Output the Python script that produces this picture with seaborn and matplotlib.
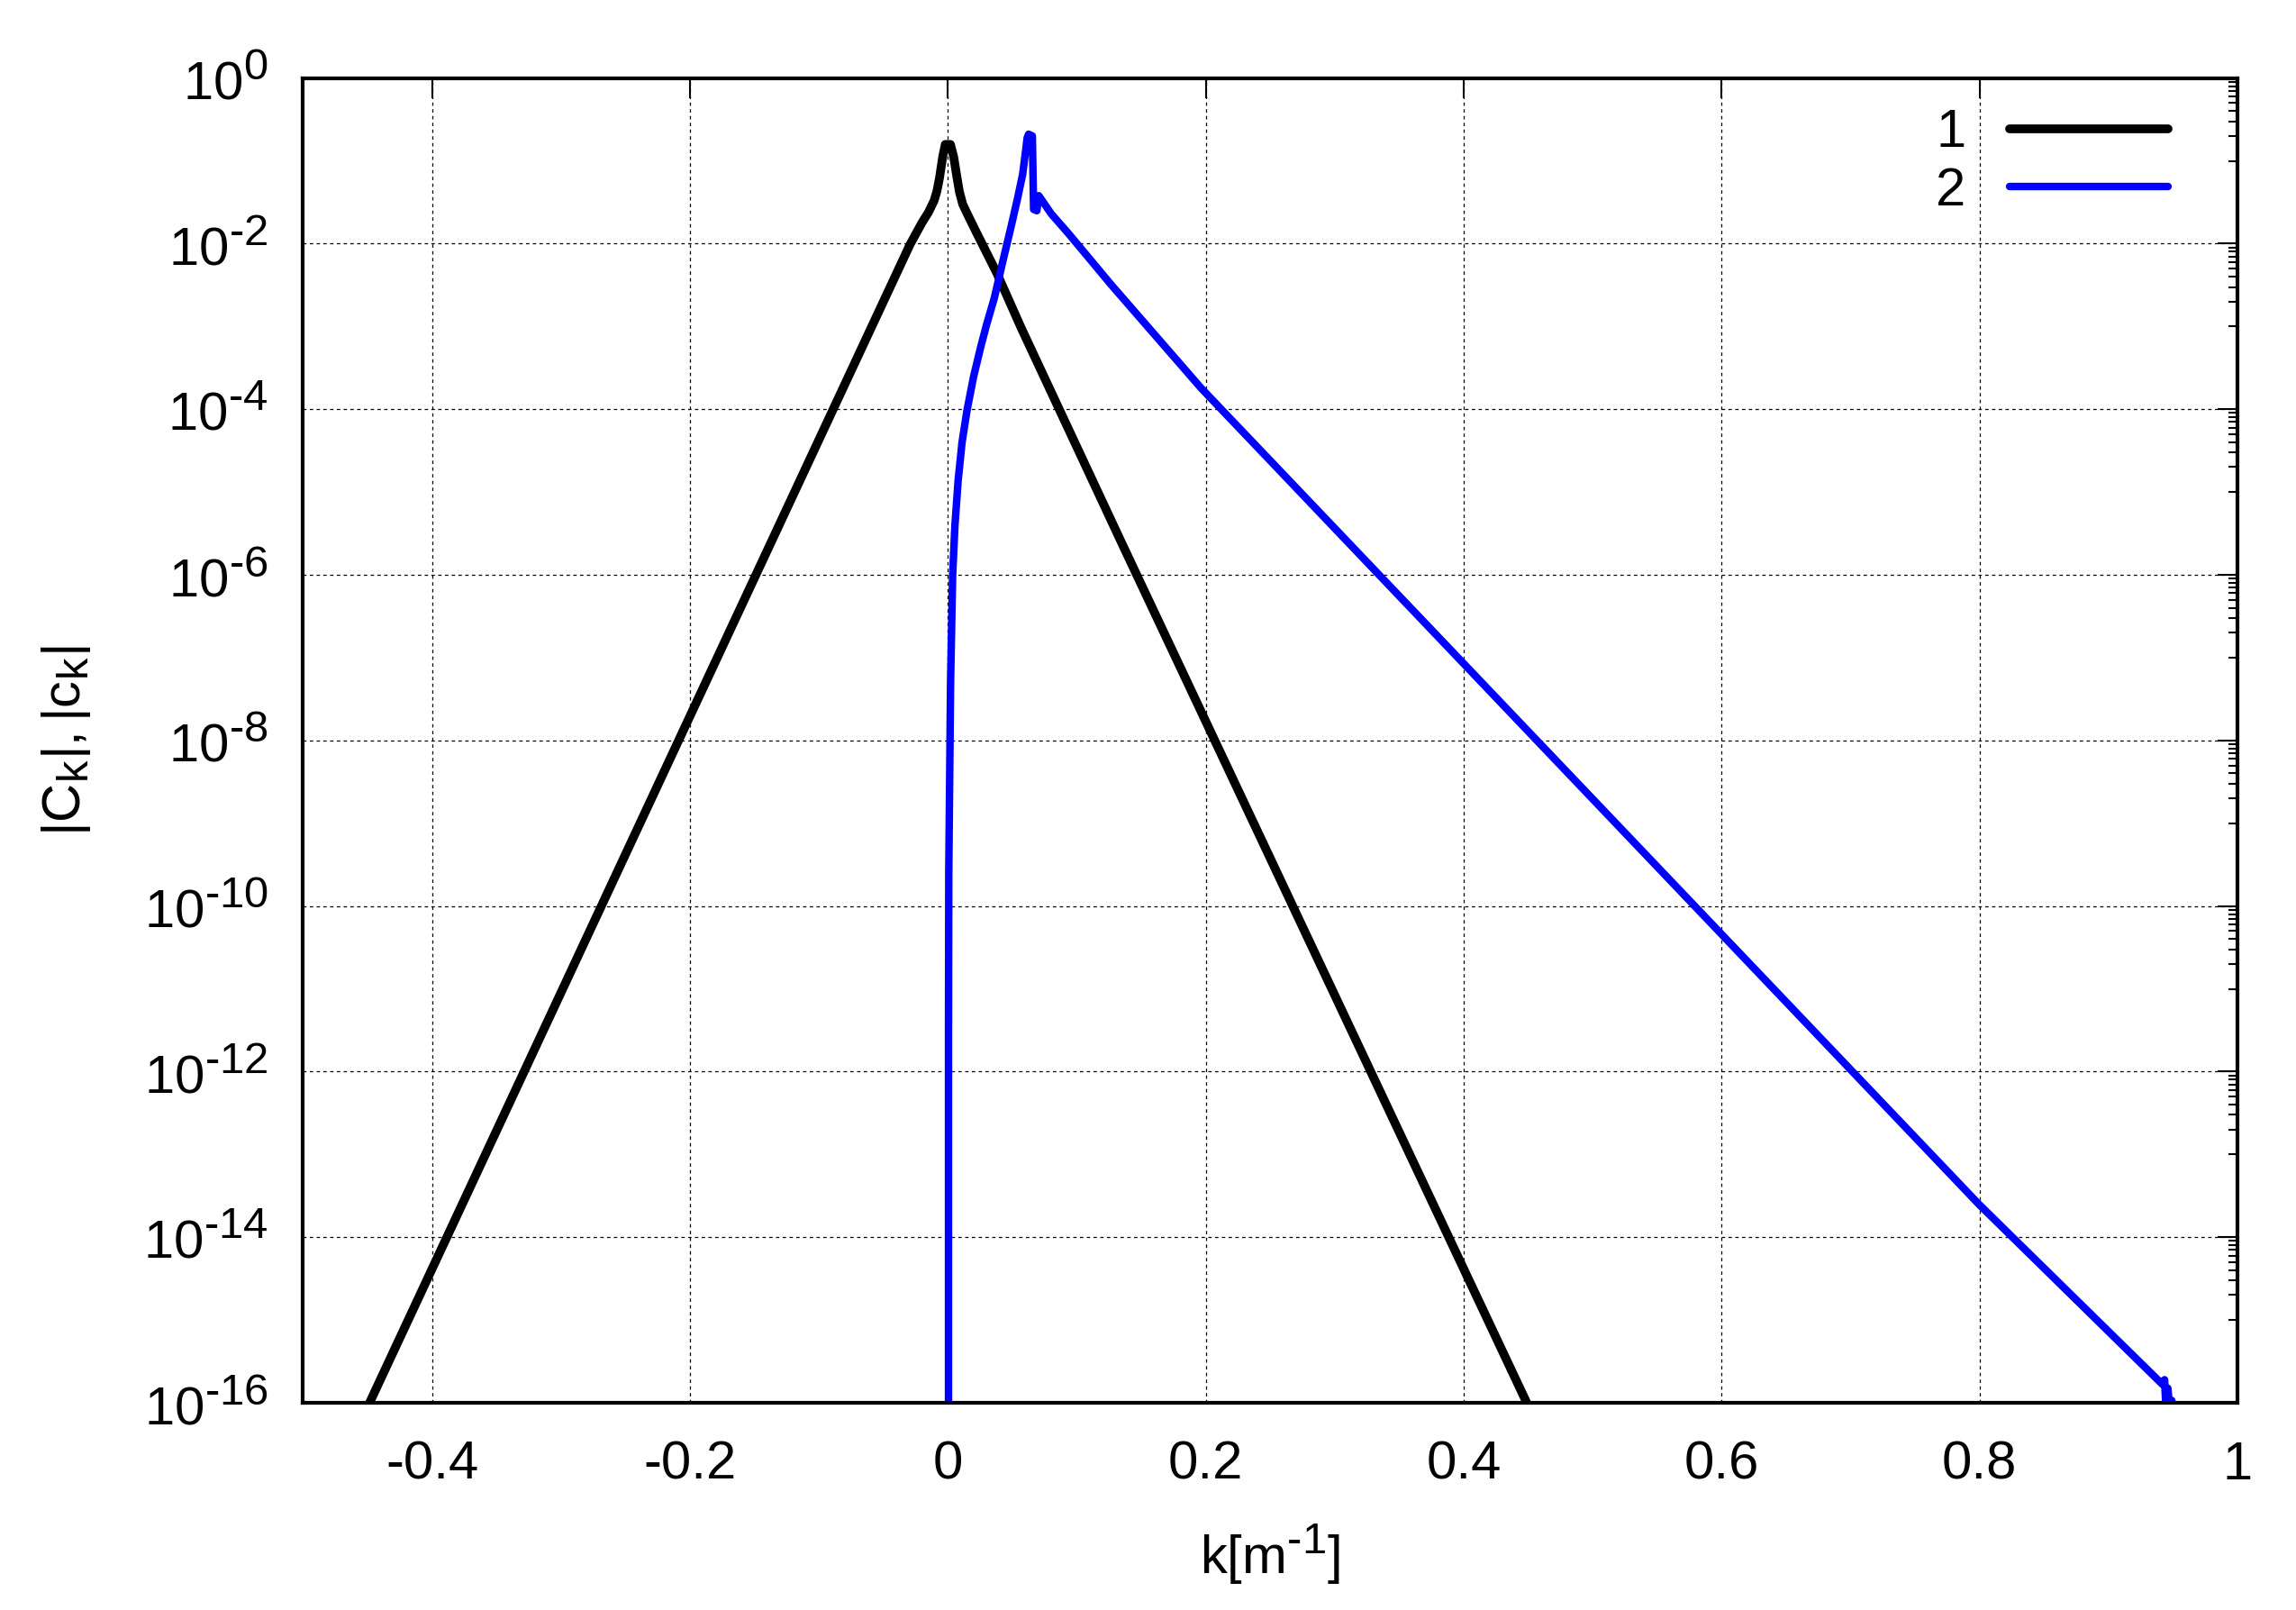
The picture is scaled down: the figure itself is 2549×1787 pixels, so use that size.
import matplotlib
matplotlib.use("Agg")
import matplotlib.pyplot as plt
import matplotlib._mathtext as mathtext_internals
import seaborn as sns
import pandas as pd
from matplotlib.ticker import FixedLocator, FixedFormatter, NullLocator, NullFormatter


# ---------------- DATA ----------------
# curve 1 : |C_k|
k1 = [-0.4515, -0.0293, -0.020, -0.015, -0.0107, -0.0085,
      -0.0065, -0.004, -0.002, 0.002, 0.0045, 0.0070, 0.0090, 0.0115,
      0.015, 0.0218, 0.038, 0.0566, 0.1334, 0.452]
c1 = [7.9e-17, 9.8e-3, 1.8e-2, 2.4e-2, 3.3e-2, 4.3e-2,
      6.2e-2, 0.112, 0.158, 0.158, 0.112, 6.4e-2, 4.2e-2, 3.0e-2,
      2.3e-2, 1.4e-2, 4.4e-3, 9.8e-4, 2.7e-6, 7.9e-17]

# curve 2 : |c_k|
k2 = [0.0005, 0.0005, 0.0007, 0.0021, 0.0037, 0.0055, 0.0080, 0.0110,
      0.0149, 0.0200, 0.0254, 0.0300, 0.0360, 0.0428, 0.0490, 0.0540,
      0.058, 0.0605, 0.0615, 0.0626, 0.0655, 0.0665, 0.069, 0.0705,
      0.0801, 0.094, 0.1266, 0.1964, 0.7995, 0.942, 0.9435, 0.9445,
      0.946, 0.9475, 0.949, 0.951]
c2 = [7.9e-17, 3.3e-12, 2.5e-10, 5.0e-8, 1.0e-6, 4.0e-6, 1.4e-5, 4.0e-5,
      9.8e-5, 2.5e-4, 5.6e-4, 1.05e-3, 2.2e-3, 6.3e-3, 1.6e-2, 3.5e-2,
      6.9e-2, 0.14, 0.19, 0.21, 0.20, 2.6e-2, 2.5e-2, 3.8e-2,
      2.3e-2, 1.3e-2, 3.2e-3, 1.8e-4, 2.5e-14, 1.66e-16, 1.9e-16,
      8.9e-17, 1.5e-16, 8.3e-17, 1.07e-16, 7.9e-17]

series_labels = ["1", "2"]
series_colors = ["black", "#0000ff"]

xticks = [-0.4, -0.2, 0, 0.2, 0.4, 0.6, 0.8, 1]
xtick_labels = ["-0.4", "-0.2", "0", "0.2", "0.4", "0.6", "0.8", "1"]
ytick_exponents = [0, -2, -4, -6, -8, -10, -12, -14, -16]


# ---------------- STYLE ----------------
sns.set_style("white")
plt.rcParams["font.family"] = ["Liberation Sans", "DejaVu Sans"]
plt.rcParams["mathtext.fontset"] = "custom"
plt.rcParams["mathtext.rm"] = "Liberation Sans"
plt.rcParams["mathtext.it"] = "Liberation Sans"
plt.rcParams["mathtext.default"] = "regular"
plt.rcParams["axes.unicode_minus"] = False
for key in ["text.color", "axes.labelcolor", "xtick.color", "ytick.color"]:
    plt.rcParams[key] = "black"

# gnuplot-like superscripts are bigger than mathtext's 0.7
mathtext_internals.SHRINK_FACTOR = 0.82

FS = 43

fig = plt.figure(figsize=(25.49, 17.87), dpi=100)
ax = fig.add_axes([0.132, 0.1287, 0.8425, 0.8228])

df1 = pd.DataFrame({"k": k1, "c": c1})
df2 = pd.DataFrame({"k": k2, "c": c2})

sns.lineplot(data=df1, x="k", y="c", sort=False, estimator=None,
             color=series_colors[0], linewidth=7, label=series_labels[0], ax=ax)
sns.lineplot(data=df2, x="k", y="c", sort=False, estimator=None,
             color=series_colors[1], linewidth=6, label=series_labels[1], ax=ax)

ax.set_yscale("log")
ax.set_xlim(-0.5, 1.0)
ax.set_ylim(1e-16, 1.0)

# x ticks
ax.xaxis.set_major_locator(FixedLocator(xticks))
ax.xaxis.set_major_formatter(FixedFormatter(xtick_labels))
ax.xaxis.set_minor_locator(NullLocator())

# y ticks: every 2 decades, minor ticks linear inside each 2-decade step
ymaj = [10.0 ** e for e in ytick_exponents]
ylab = [r"$10^{0}$" if e == 0 else r"$10^{\text{-}%d}$" % (-e) for e in ytick_exponents]
ymin = []
for e in ytick_exponents[:-1]:
    for m in range(1, 10):
        ymin.append(m * 10.0 ** (e - 1))
ax.yaxis.set_major_locator(FixedLocator(ymaj))
ax.yaxis.set_major_formatter(FixedFormatter(ylab))
ax.yaxis.set_minor_locator(FixedLocator(ymin))
ax.yaxis.set_minor_formatter(NullFormatter())

ax.tick_params(which="both", direction="in", top=True, right=True,
               labelsize=FS, color="black")
ax.tick_params(which="major", length=16, width=1.5)
ax.tick_params(which="minor", length=7, width=1.5)
ax.tick_params(axis="x", which="major", pad=30)
ax.tick_params(axis="y", which="major", pad=28)

for s in ax.spines.values():
    s.set_linewidth(3)
    s.set_color("black")

ax.set_axisbelow(True)
ax.grid(True, which="major", color="black", lw=0.9, ls=(0, (3, 3)))

ax.set_xlabel(r"k[m$^{\text{-}1}$]", fontsize=FS, labelpad=26)
ax.set_ylabel(r"$|C_k|, |c_k|$", fontsize=FS, labelpad=40)

ax.legend(loc="upper right", bbox_to_anchor=(0.964, 0.977), frameon=False,
          markerfirst=False, fontsize=FS, handlelength=2.95,
          handletextpad=0.8, labelspacing=0.16, borderpad=0,
          borderaxespad=0)

fig.savefig("out.png", dpi=100, facecolor="white")
